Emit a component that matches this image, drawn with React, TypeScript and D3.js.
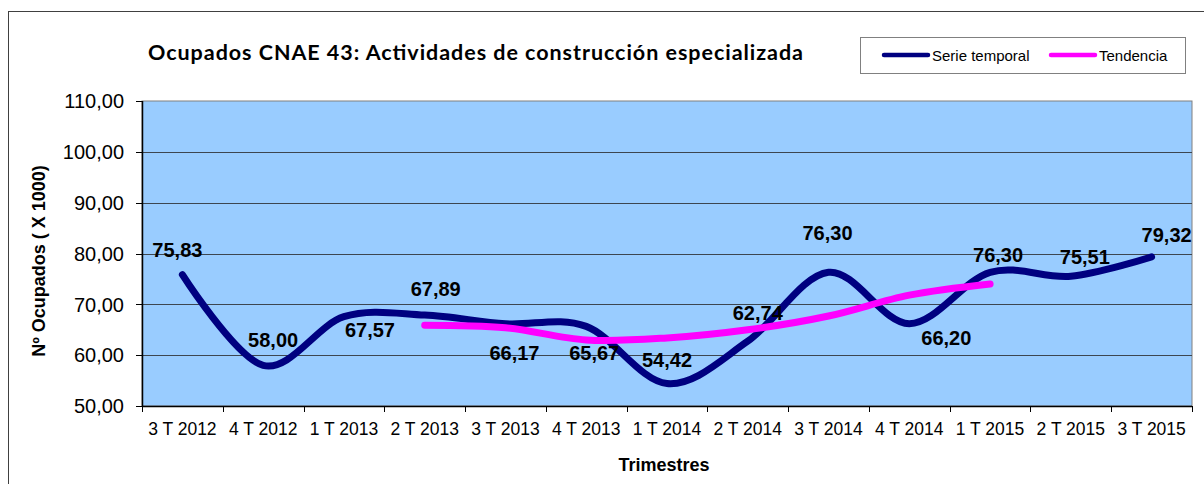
import React from "react";
import * as d3 from "d3";

// chart data
const categories = [
  "3 T 2012", "4 T 2012", "1 T 2013", "2 T 2013", "3 T 2013", "4 T 2013", "1 T 2014",
  "2 T 2014", "3 T 2014", "4 T 2014", "1 T 2015", "2 T 2015", "3 T 2015"
];
const serie = [75.83, 58.0, 67.57, 67.89, 66.17, 65.67, 54.42, 62.74, 76.3, 66.2, 76.3, 75.51, 79.32];
// moving average, starts at 2 T 2013
const tendenciaCats = categories.slice(3, 11);
const tendencia = [65.9, 65.4, 63.0, 63.4, 65.0, 67.7, 71.8, 74.0];
const yTicks = [50, 60, 70, 80, 90, 100, 110];

// label placement relative to each point (px)
const labelDx = [-5, 10, 26, 11, 9, 8, 0, 10, -1, 37, 8, 14, 15];
const labelDy = [-25, -26, 13, -26, 29, 26, -24, -28, -40, 14, -18, -20, -22];

const W = 1204;
const H = 484;
const plot = { left: 142, right: 1192, top: 101, bottom: 406 };

const fmt = (v: number) => d3.format(".2f")(v).replace(".", ",");

const App = () => {
  const x = d3.scaleBand().domain(categories).range([plot.left, plot.right]).paddingInner(0).paddingOuter(0);
  const cx = (c: string) => (x(c) as number) + x.bandwidth() / 2;
  const y = d3.scaleLinear().domain([50, 110]).range([plot.bottom, plot.top]);

  const line = d3
    .line<[string, number]>()
    .x(d => cx(d[0]))
    .y(d => y(d[1]))
    .curve(d3.curveCardinal.tension(0));

  const seriePts = categories.map((c, i) => [c, serie[i]] as [string, number]);
  const trendPts = tendenciaCats.map((c, i) => [c, tendencia[i]] as [string, number]);

  const xEdges = categories.map(c => x(c) as number).concat([plot.right]);

  return (
    <svg width={W} height={H} style={{ position: "absolute", left: 0, top: 0, background: "#fff" }}>
      {/* chart area border */}
      <rect x={8.5} y={11.5} width={1300} height={600} fill="#fff" stroke="#404040" strokeWidth={1} />

      <text x={148} y={60} textLength={655} lengthAdjust="spacing" fontFamily="Lato" fontWeight="bold" fontSize={21.5} fill="#000">
        Ocupados CNAE 43: Actividades de construcción especializada
      </text>

      {/* legend */}
      <g fontFamily="Liberation Sans, Arial" fontSize={15}>
        <rect x={860.5} y={37.5} width={325} height={36} fill="#fff" stroke="#808080" />
        <line x1={884} x2={928} y1={55} y2={55} stroke="#000080" strokeWidth={4.5} strokeLinecap="round" />
        <text x={932} y={60.5} fill="#000">Serie temporal</text>
        <line x1={1051} x2={1095} y1={55} y2={55} stroke="#FF00FF" strokeWidth={4.5} strokeLinecap="round" />
        <text x={1099} y={60.5} fill="#000">Tendencia</text>
      </g>

      {/* plot area */}
      <rect x={plot.left} y={plot.top} width={plot.right - plot.left} height={plot.bottom - plot.top} fill="#99CCFF" stroke="#808080" strokeWidth={1} />
      {yTicks.slice(1, -1).map(t => (
        <line key={t} x1={plot.left} x2={plot.right} y1={Math.round(y(t)) + 0.5} y2={Math.round(y(t)) + 0.5} stroke="#3d4650" strokeWidth={1} />
      ))}

      {/* y axis */}
      <line x1={plot.left + 0.5} x2={plot.left + 0.5} y1={plot.top} y2={plot.bottom} stroke="#000" strokeWidth={1.5} />
      {yTicks.map(t => (
        <g key={t}>
          <line x1={plot.left - 6} x2={plot.left} y1={Math.round(y(t)) + 0.5} y2={Math.round(y(t)) + 0.5} stroke="#000" />
          <text x={124} y={y(t)} dy="0.36em" textAnchor="end" fontFamily="Liberation Sans, Arial" fontSize={20} fill="#000">
            {fmt(t)}
          </text>
        </g>
      ))}

      {/* x axis */}
      <line x1={plot.left} x2={plot.right} y1={plot.bottom + 0.5} y2={plot.bottom + 0.5} stroke="#000" strokeWidth={1.5} />
      {xEdges.map((e, i) => (
        <line key={i} x1={Math.round(e) + 0.5} x2={Math.round(e) + 0.5} y1={plot.bottom} y2={plot.bottom + 6} stroke="#000" />
      ))}
      {categories.map(c => (
        <text key={c} x={cx(c)} y={435} textAnchor="middle" fontFamily="Liberation Sans, Arial" fontSize={17.5} fill="#000">
          {c}
        </text>
      ))}

      {/* axis titles */}
      <text x={664} y={471} textAnchor="middle" fontFamily="Liberation Sans, Arial" fontWeight="bold" fontSize={18} fill="#000">
        Trimestres
      </text>
      <text transform={`translate(45,${261}) rotate(-90)`} textAnchor="middle" fontFamily="Liberation Sans, Arial" fontWeight="bold" fontSize={18} fill="#000">
        Nº Ocupados ( X 1000)
      </text>

      {/* series */}
      <path d={line(seriePts) as string} fill="none" stroke="#000080" strokeWidth={7} strokeLinecap="round" strokeLinejoin="round" />
      <path d={line(trendPts) as string} fill="none" stroke="#FF00FF" strokeWidth={7} strokeLinecap="round" strokeLinejoin="round" />

      {/* data labels */}
      {categories.map((c, i) => (
        <text key={c} x={cx(c) + labelDx[i]} y={y(serie[i]) + labelDy[i]} dy="0.36em" textAnchor="middle" fontFamily="Liberation Sans, Arial" fontWeight="bold" fontSize={20} fill="#000">
          {fmt(serie[i])}
        </text>
      ))}
    </svg>
  );
};

export default App;
